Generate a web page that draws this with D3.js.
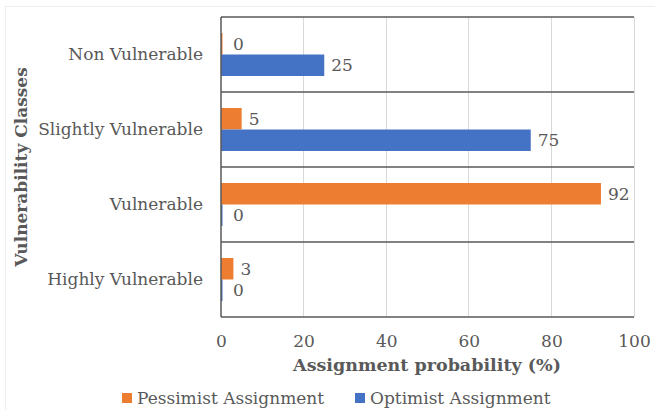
<!DOCTYPE html>
<html>
<head>
<meta charset="utf-8">
<script src="https://cdn.jsdelivr.net/npm/d3@7"></script>
<style>
  html, body { margin: 0; padding: 0; background: #fff; }
  svg { display: block; }
  text { font-family: "DejaVu Serif", Georgia, serif; fill: #595959; }
</style>
</head>
<body>
<svg id="chart" width="655" height="410"></svg>
<script>
// Vulnerability classes, top to bottom
const categories = ["Non Vulnerable", "Slightly Vulnerable", "Vulnerable", "Highly Vulnerable"];
const seriesNames = ["Pessimist Assignment", "Optimist Assignment"];
const pessimist = [0, 5, 92, 3];
const optimist = [25, 75, 0, 0];
const xTicks = [0, 20, 40, 60, 80, 100];
const colors = ["#ED7D31", "#4472C4"];

const FONT = '"DejaVu Serif", Georgia, serif';
const svg = d3.select("#chart");
const W = 655, H = 410;
const margin = { left: 221, right: 21, top: 17, bottom: 93 };
const plotW = W - margin.left - margin.right;
const plotH = H - margin.top - margin.bottom;

// outer card outline
svg.append("rect")
  .attr("x", 5.5).attr("y", 6.5).attr("width", 660).attr("height", 410)
  .attr("fill", "none").attr("stroke", "#eeeeee");

const g = svg.append("g").attr("transform", `translate(${margin.left},${margin.top})`);

const x = d3.scaleLinear().domain([0, 100]).range([0, plotW]);
const y = d3.scaleBand().domain(categories).range([0, plotH]);
const inner = d3.scaleBand().domain(seriesNames).range([0, 43]);
const bandPad = (y.bandwidth() - 43) / 2;

// vertical gridlines
g.selectAll(".vgrid").data(xTicks.slice(1)).join("line")
  .attr("x1", d => x(d)).attr("x2", d => x(d))
  .attr("y1", 0).attr("y2", plotH)
  .attr("stroke", "#d9d9d9").attr("stroke-width", 1)
  .attr("shape-rendering", "crispEdges");

// category separators
const seps = [0].concat(categories.map(c => y(c) + y.bandwidth()));
g.selectAll(".hgrid").data(seps).join("line")
  .attr("x1", 0).attr("x2", plotW)
  .attr("y1", d => d).attr("y2", d => d)
  .attr("stroke", "#595959").attr("stroke-width", 1.5);

// bars
const rows = [];
categories.forEach((c, i) => {
  rows.push({ cat: c, s: seriesNames[0], v: pessimist[i], color: colors[0] });
  rows.push({ cat: c, s: seriesNames[1], v: optimist[i], color: colors[1] });
});

g.selectAll(".bar").data(rows).join("rect")
  .attr("x", 0)
  .attr("y", d => y(d.cat) + bandPad + inner(d.s))
  .attr("width", d => Math.max(x(d.v), 1.5))
  .attr("height", inner.bandwidth())
  .attr("fill", d => d.color);

// value labels
g.selectAll(".lbl").data(rows).join("text")
  .attr("x", d => Math.max(x(d.v), 5) + 7)
  .attr("y", d => y(d.cat) + bandPad + inner(d.s) + inner.bandwidth() / 2)
  .attr("dy", "0.35em")
  .attr("font-size", 17)
  .text(d => d.v);

// left axis line
g.append("line").attr("x1", 0).attr("x2", 0).attr("y1", 0).attr("y2", plotH)
  .attr("stroke", "#595959").attr("stroke-width", 1.5);

// x axis tick labels
const xAxis = g.append("g").attr("transform", `translate(0,${plotH})`)
  .call(d3.axisBottom(x).tickValues(xTicks).tickSize(0).tickPadding(18).tickFormat(d3.format("d")));
xAxis.select(".domain").remove();
xAxis.selectAll("text").attr("font-size", 17).attr("fill", "#595959")
  .style("font-family", FONT);

// y axis category labels
const yAxis = g.append("g")
  .call(d3.axisLeft(y).tickSize(0).tickPadding(18));
yAxis.select(".domain").remove();
yAxis.selectAll("text").attr("font-size", 17).attr("fill", "#595959")
  .style("font-family", FONT);

// axis titles
svg.append("text")
  .attr("x", 427).attr("y", 371)
  .attr("text-anchor", "middle").attr("font-size", 17.5).attr("font-weight", "bold")
  .text("Assignment probability (%)");

svg.append("text")
  .attr("transform", `translate(27,${margin.top + plotH / 2}) rotate(-90)`)
  .attr("text-anchor", "middle").attr("font-size", 17).attr("font-weight", "bold")
  .text("Vulnerability Classes");

// legend
const legendItems = [
  { name: seriesNames[0], color: colors[0], x: 122 },
  { name: seriesNames[1], color: colors[1], x: 355 }
];
const lg = svg.selectAll(".legend").data(legendItems).join("g")
  .attr("transform", d => `translate(${d.x},398)`);
lg.append("rect").attr("x", 0).attr("y", -5).attr("width", 10).attr("height", 10)
  .attr("fill", d => d.color);
lg.append("text").attr("x", 15).attr("dy", "0.35em").attr("font-size", 17)
  .text(d => d.name);
</script>
</body>
</html>
